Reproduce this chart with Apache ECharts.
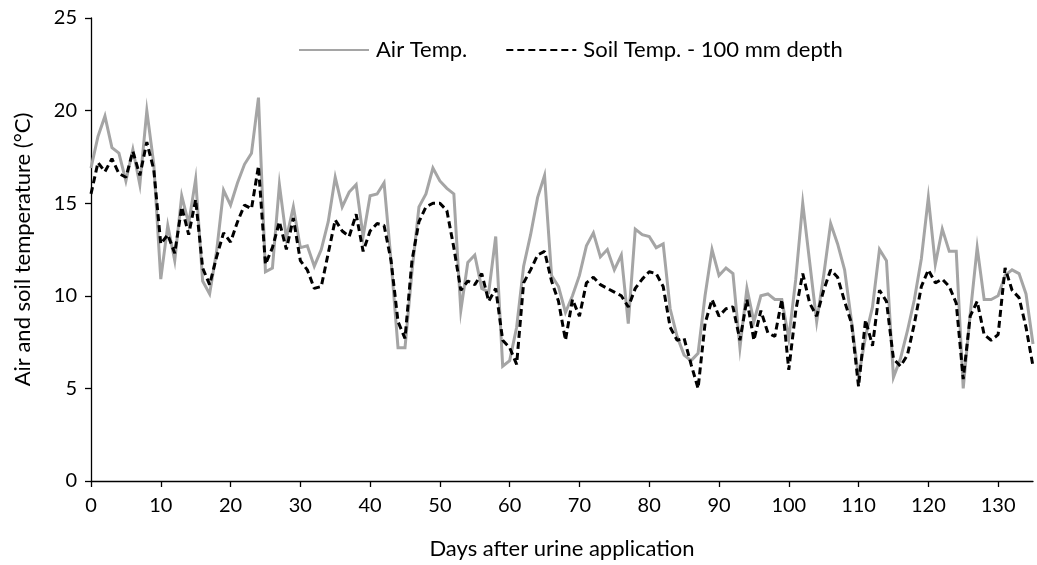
<!DOCTYPE html>
<html>
<head>
<meta charset="utf-8">
<title>Air and soil temperature</title>
<script src="https://cdn.jsdelivr.net/npm/echarts@6/dist/echarts.min.js"></script>
<style>
  html, body { margin: 0; padding: 0; background: #fff; }
  #chart { width: 1037px; height: 565px; }
</style>
</head>
<body>
<div id="chart"></div>
<script>
// Daily mean air temperature (°C), day 0 .. 135
const airTemp = [
  16.9, 18.6, 19.7, 18.0, 17.7, 16.2, 17.9, 16.0, 20.0, 17.1,
  10.9, 13.8, 11.9, 15.4, 13.9, 16.3, 10.8, 10.1, 12.4, 15.7,
  14.9, 16.1, 17.1, 17.7, 20.7, 11.3, 11.5, 16.0, 13.1, 14.8,
  12.6, 12.7, 11.6, 12.5, 14.0, 16.4, 14.8, 15.6, 16.0, 13.2,
  15.4, 15.5, 16.1, 11.9, 7.2, 7.2, 11.3, 14.8, 15.5, 16.9,
  16.2, 15.8, 15.5, 9.2, 11.8, 12.2, 10.4, 10.2, 13.2, 6.2,
  6.5, 8.3, 11.6, 13.3, 15.3, 16.5, 11.1, 10.5, 9.1, 10.0,
  11.1, 12.7, 13.4, 12.1, 12.5, 11.4, 12.2, 8.5, 13.6, 13.3,
  13.2, 12.6, 12.8, 9.3, 7.8, 6.8, 6.5, 6.9, 10.0, 12.5,
  11.1, 11.5, 11.2, 7.2, 10.4, 8.6, 10.0, 10.1, 9.8, 9.8,
  7.7, 10.9, 15.0, 11.8, 8.6, 11.1, 13.9, 12.8, 11.4, 8.6,
  5.6, 7.8, 9.4, 12.5, 11.9, 5.6, 6.6, 8.1, 9.8, 12.0,
  15.3, 11.7, 13.6, 12.4, 12.4, 5.0, 9.0, 12.6, 9.8, 9.8,
  10.0, 11.1, 11.4, 11.2, 10.1, 7.4
];

// Daily mean soil temperature at 100 mm depth (°C), day 0 .. 135
const soilTemp = [
  15.5, 17.2, 16.7, 17.4, 16.6, 16.4, 17.8, 16.5, 18.3, 16.8,
  12.8, 13.3, 12.3, 14.8, 13.3, 15.2, 11.5, 10.6, 12.1, 13.4,
  12.9, 14.0, 14.9, 14.7, 17.0, 11.7, 12.6, 14.0, 12.5, 14.2,
  11.9, 11.4, 10.4, 10.5, 12.3, 14.1, 13.5, 13.2, 14.4, 12.4,
  13.5, 13.9, 13.8, 11.9, 8.6, 7.7, 11.9, 14.0, 14.8, 15.0,
  15.0, 14.6, 12.6, 10.3, 10.8, 10.6, 11.2, 9.7, 10.4, 7.6,
  7.2, 6.3, 10.7, 11.4, 12.2, 12.4, 10.8, 9.7, 7.6, 9.8,
  8.9, 10.7, 11.0, 10.6, 10.4, 10.2, 10.0, 9.4, 10.4, 10.9,
  11.3, 11.2, 10.5, 8.3, 7.6, 7.7, 6.3, 5.0, 8.5, 9.8,
  8.9, 9.3, 9.4, 7.6, 9.8, 7.6, 9.2, 8.0, 7.8, 9.8,
  6.0, 9.2, 11.2, 9.6, 8.9, 10.3, 11.4, 11.0, 9.7, 8.5,
  5.1, 8.7, 7.3, 10.3, 9.7, 6.6, 6.2, 6.8, 8.5, 10.5,
  11.4, 10.7, 10.9, 10.5, 9.6, 5.5, 8.9, 9.7, 7.9, 7.6,
  7.9, 11.5, 10.3, 9.9, 8.3, 6.2
];

// Tick positions on the day axis
const dayTicks = [0, 10, 20, 30, 40, 50, 60, 70, 80, 90, 100, 110, 120, 130];

const seriesNames = ['Air Temp.', 'Soil Temp. - 100 mm depth'];

const FONT = 'Lato, "Open Sans", "Noto Sans", sans-serif';

// Pair each reading with its day number (its position in the record)
const toPairs = arr => arr.map((v, i) => [i, v]);

const chart = echarts.init(document.getElementById('chart'), null, { renderer: 'canvas' });

chart.setOption({
  animation: false,
  backgroundColor: '#ffffff',
  textStyle: { fontFamily: FONT, color: '#000' },
  grid: { left: 91, right: 4, top: 18, bottom: 83, containLabel: false },
  legend: {
    top: 39,
    left: 298,
    padding: 0,
    itemWidth: 70,
    itemHeight: 14,
    itemGap: 38,
    // line-only keys: hide the point marker drawn in the middle of each key
    itemStyle: { opacity: 0 },
    textStyle: { fontFamily: FONT, fontSize: 22, color: '#000', padding: [0, 0, 0, 2] },
    data: seriesNames
  },
  xAxis: {
    type: 'value',
    min: 0,
    max: 135,
    interval: 10,
    name: 'Days after urine application',
    nameLocation: 'middle',
    nameGap: 57,
    nameTextStyle: { fontFamily: FONT, fontSize: 22, color: '#000' },
    axisLine: { show: true, onZero: false, lineStyle: { color: '#000', width: 1.3 } },
    axisTick: { show: true, length: 6, inside: false, customValues: dayTicks, lineStyle: { color: '#000', width: 1.3 } },
    axisLabel: { fontFamily: FONT, fontSize: 20, color: '#000', margin: 15, customValues: dayTicks },
    splitLine: { show: false }
  },
  yAxis: {
    type: 'value',
    min: 0,
    max: 25,
    interval: 5,
    name: 'Air and soil temperature (°C)',
    nameLocation: 'middle',
    nameGap: 57,
    nameTextStyle: { fontFamily: FONT, fontSize: 22, color: '#000' },
    axisLine: { show: true, lineStyle: { color: '#000', width: 1.3 } },
    axisTick: { show: true, length: 6, inside: false, lineStyle: { color: '#000', width: 1.3 } },
    axisLabel: { fontFamily: FONT, fontSize: 20, color: '#000', margin: 14 },
    splitLine: { show: false }
  },
  series: [
    {
      name: seriesNames[0],
      type: 'line',
      data: toPairs(airTemp),
      showSymbol: false,
      symbol: 'none',
      lineStyle: { color: '#a5a5a5', width: 3, join: 'miter' },
      itemStyle: { color: '#a5a5a5' },
      z: 2
    },
    {
      name: seriesNames[1],
      type: 'line',
      data: toPairs(soilTemp),
      showSymbol: false,
      symbol: 'none',
      lineStyle: { color: '#000000', width: 3, type: [7, 4], cap: 'butt' },
      itemStyle: { color: '#000000' },
      z: 3
    }
  ]
});
</script>
</body>
</html>
